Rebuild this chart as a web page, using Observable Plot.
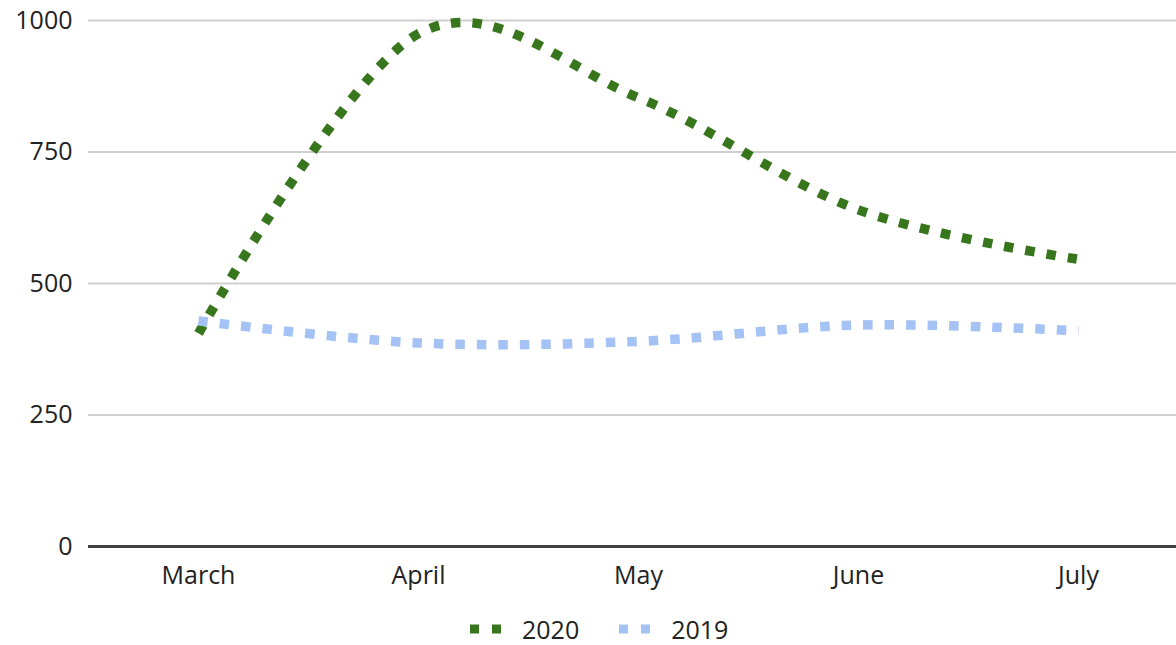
<!DOCTYPE html>
<html>
<head>
<meta charset="utf-8">
<script src="https://cdn.jsdelivr.net/npm/d3@7"></script>
<script src="https://cdn.jsdelivr.net/npm/@observablehq/plot@0.6"></script>
<style>
  html, body { margin: 0; background: #fff; }
  body { width: 1176px; height: 645px; overflow: hidden; position: relative; font-family: "Open Sans", sans-serif; }
  #chart svg { max-width: none !important; }
  #legend { position: absolute; left: 470px; top: 612px; display: flex; align-items: center; font-size: 25px; color: #222; }
  #legend .item { display: flex; align-items: center; }
  #legend svg { margin-right: 20px; }
</style>
</head>
<body>
<div id="chart"></div>
<div id="legend"></div>
<script>
const months = ["March", "April", "May", "June", "July"];
const values2020 = [405, 975, 853, 640, 546];
const values2019 = [429, 387, 390, 421, 410];
const yTicks = [0, 250, 500, 750, 1000];
const seriesNames = ["2020", "2019"];
const seriesColors = ["#38761d", "#a4c2f4"];

const rows = [
  ...months.map((m, i) => ({month: m, value: values2020[i], series: seriesNames[0]})),
  ...months.map((m, i) => ({month: m, value: values2019[i], series: seriesNames[1]}))
];

const dash = "9.5,12";

const chart = Plot.plot({
  width: 1188,
  height: 600,
  marginLeft: 88,
  marginRight: 0,
  marginTop: 20,
  marginBottom: 54,
  style: {fontFamily: "'Open Sans', sans-serif", fontSize: "25px", color: "#222", background: "#fff", maxWidth: "none"},
  x: {type: "point", domain: months, padding: 0.5, label: null},
  y: {domain: [0, 1000], ticks: yTicks, label: null},
  color: {domain: seriesNames, range: seriesColors},
  marks: [
    Plot.gridY(yTicks.filter(d => d > 0), {stroke: "#cfcfcf", strokeOpacity: 1, strokeWidth: 2}),
    Plot.ruleY([0], {stroke: "#404040", strokeWidth: 3}),
    Plot.axisY({ticks: yTicks, tickSize: 0, tickPadding: 16, tickFormat: d3.format("d"), label: null}),
    Plot.axisX({tickSize: 0, tickPadding: 20, label: null}),
    Plot.line(rows, {x: "month", y: "value", z: "series", stroke: "series", strokeWidth: 9.5, strokeDasharray: dash, strokeLinecap: "butt", curve: "cardinal"})
  ]
});
chart.style.maxWidth = "none";
document.getElementById("chart").appendChild(chart);

const legend = document.getElementById("legend");
seriesNames.forEach((name, i) => {
  const item = document.createElement("div");
  item.className = "item";
  if (i > 0) item.style.marginLeft = "40px";
  item.innerHTML = `<svg width="32" height="12"><line x1="0" y1="6" x2="32" y2="6" stroke="${seriesColors[i]}" stroke-width="9" stroke-dasharray="9,13"/></svg><span>${name}</span>`;
  legend.appendChild(item);
});
</script>
</body>
</html>
